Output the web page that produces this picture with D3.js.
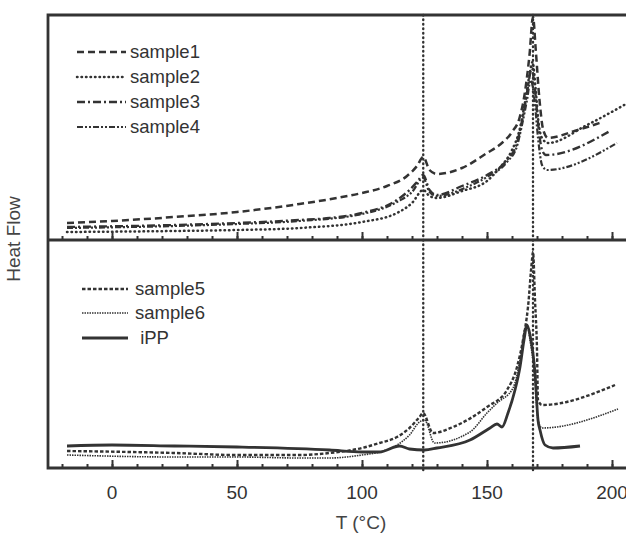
<!DOCTYPE html>
<html>
<head>
<meta charset="utf-8">
<script src="https://cdn.jsdelivr.net/npm/d3@7"></script>
<style>
  html, body { margin: 0; padding: 0; background: #fff; }
  svg { display: block; font-family: "Liberation Sans", Arial, sans-serif; }
</style>
</head>
<body>
<svg id="chart" width="626" height="536"></svg>
<script>
// DSC traces, heat flow in arbitrary units
const sample1 = [[-18,17],[0,19],[25,23],[50,28],[75,36],[90,42],[100,47],[110,54],[118,64],[122,74],[124.5,83],[127,70],[130,66],[140,72],[150,87],[155,95],[160,108],[163,122],[165,145],[167,185],[168.4,223],[169.5,190],[171,140],[172.5,110],[174.4,102],[185,109],[195,117]]
const sample2 = [[-18,8],[25,9],[50,10],[75,12],[100,18],[114,27],[120,37],[124.5,50],[127,44],[130,42],[140,49],[150,59],[155,72],[160,90],[163,110],[165,135],[167,165],[168.2,178],[169.5,150],[170.5,120],[172,102],[174.4,97],[190,115],[205.6,136]]
const sample3 = [[-18,13],[25,15],[50,17],[75,20],[87,22],[100,27],[114,40],[119,50],[122,58],[124.5,65],[127,50],[130,45],[140,54],[150,65],[158,80],[162,97],[163.5,113],[165,132],[166.5,155],[167.8,172],[169,155],[170.5,115],[172,90],[173.6,85],[199.2,109]]
const sample4 = [[-18,12],[25,14],[50,16],[75,19],[100,26],[114,38],[120,48],[124.5,62],[127,48],[130,44],[142,53],[150,63],[158,78],[162,94],[164,115],[166,140],[167.5,160],[169,140],[170.5,100],[172,75],[174,70],[202,97]]

const sample5 = [[-18,17],[25,15],[50,13],[75,13],[87,15],[100,20],[107,25],[114,31],[119,40],[123,51],[124.4,55],[128.4,35],[136.4,41],[150,61],[158,78],[162,101],[164.4,128],[166.4,161],[168,208],[168.4,216],[169.2,168],[170,118],[170.4,68],[172,63],[201.2,83]]
const sample6 = [[-18,13],[25,11],[50,11],[75,10],[87,10],[100,13],[107,16],[114,23],[119,33],[123,46],[125,48],[129,25],[143.2,36],[150,55],[154,65],[160.4,80],[163.2,108],[165.2,140],[166,143],[167.2,128],[169.2,88],[170.4,48],[172,40],[202.4,59]]
const iPP = [[-18,22],[0,23],[25,22],[50,21],[87,18],[100,16],[107,16],[115,22],[119,19],[125,18],[130,20],[143.2,28],[151.2,40],[154,44],[156,41],[158.4,55],[161.2,78],[163.2,101],[164.8,128],[166,143],[167.2,133],[169.2,95],[170.4,48],[171.2,38],[173.2,23],[176.4,20],[187.2,22]]

const peakMarks = [124.5, 168.4]
const xTicks = [0, 50, 100, 150, 200]

const upperSeries = [
  { name: 'sample1', data: sample1, dash: '7,4', width: 2.5 },
  { name: 'sample2', data: sample2, dash: '0.5,4', width: 2.5, cap: 'round' },
  { name: 'sample3', data: sample3, dash: '8,3,2,3', width: 2.4 },
  { name: 'sample4', data: sample4, dash: '6,2,2,2,2,2', width: 2.2 },
]
const lowerSeries = [
  { name: 'sample5', data: sample5, dash: '3.5,2', width: 2.4 },
  { name: 'sample6', data: sample6, dash: '1.5,1', width: 1.6 },
  { name: ' iPP', data: iPP, dash: null, width: 2.8 },
]

const ink = '#333'

const svg = d3.select('#chart')

const frameLeft = 48
const frameRight = 626
const frameTop = 15
const frameMid = 240
const frameBottom = 468

const x = d3.scaleLinear()
    .domain([-25.6, 205.6])
    .range([frameLeft, frameRight])

const yUpper = d3.scaleLinear()
    .domain([0, 225])
    .range([frameMid, frameTop])

const yLower = d3.scaleLinear()
    .domain([0, 228])
    .range([frameBottom, frameMid])

// curves
function drawPanel(series, y) {
  const line = d3.line()
      .x(d => x(d[0]))
      .y(d => y(d[1]))
      .curve(d3.curveMonotoneX)

  svg.append('g')
    .selectAll('path')
    .data(series)
    .join('path')
      .attr('d', d => line(d.data))
      .attr('fill', 'none')
      .attr('stroke', ink)
      .attr('stroke-width', d => d.width)
      .attr('stroke-dasharray', d => d.dash)
      .attr('stroke-linecap', d => d.cap || 'butt')
      .attr('stroke-linejoin', 'round')
}

drawPanel(upperSeries, yUpper)
drawPanel(lowerSeries, yLower)

// vertical dotted markers
svg.append('g')
  .selectAll('line')
  .data(peakMarks)
  .join('line')
    .attr('x1', d => x(d))
    .attr('x2', d => x(d))
    .attr('y1', frameTop)
    .attr('y2', frameBottom + 4)
    .attr('stroke', ink)
    .attr('stroke-width', 2.4)
    .attr('stroke-dasharray', '0.5,4')
    .attr('stroke-linecap', 'round')

// axes with inward ticks, labels only on the bottom one
function drawAxis(yPos, labelled) {
  const minor = d3.axisTop(x)
      .tickValues(d3.range(-20, 201, 10))
      .tickSize(4)
      .tickFormat('')

  const major = d3.axisTop(x)
      .tickValues(xTicks)
      .tickSize(8)
      .tickFormat('')

  for (const ax of [minor, major]) {
    const g = svg.append('g')
        .attr('transform', `translate(0,${yPos})`)
        .call(ax)
    g.select('.domain').remove()
    g.selectAll('line')
        .attr('stroke', ink)
        .attr('stroke-width', 2)
  }

  if (labelled) {
    svg.append('g')
      .selectAll('text')
      .data(xTicks)
      .join('text')
        .attr('x', d => x(d))
        .attr('y', yPos + 31)
        .attr('text-anchor', 'middle')
        .attr('font-size', 19)
        .attr('fill', ink)
        .text(d => d)
  }
}

drawAxis(frameMid, false)
drawAxis(frameBottom, true)

// frame
const frame = svg.append('g')
    .attr('stroke', ink)
    .attr('stroke-width', 2.8)
    .attr('fill', 'none')

frame.append('path')
    .attr('d', `M${frameRight},${frameTop}H${frameLeft}V${frameBottom}H${frameRight}`)
frame.append('line')
    .attr('x1', frameLeft).attr('x2', frameRight)
    .attr('y1', frameMid).attr('y2', frameMid)

// legends
function drawLegend(series, x0, x1, tx, rows) {
  const g = svg.append('g')
  series.forEach((s, i) => {
    g.append('line')
        .attr('x1', x0).attr('x2', x1)
        .attr('y1', rows[i]).attr('y2', rows[i])
        .attr('stroke', ink)
        .attr('stroke-width', s.width)
        .attr('stroke-dasharray', s.dash)
        .attr('stroke-linecap', s.cap || 'butt')
    g.append('text')
        .attr('x', tx)
        .attr('y', rows[i] + 6)
        .attr('font-size', 18.5)
        .attr('fill', ink)
        .style('white-space', 'pre')
        .text(s.name)
  })
}

drawLegend(upperSeries, 77, 126, 130, [52, 77, 102, 127])
drawLegend(lowerSeries, 82, 128, 135, [289, 313, 338])

// axis titles
svg.append('text')
    .attr('transform', 'translate(20,239) rotate(-90)')
    .attr('text-anchor', 'middle')
    .attr('font-size', 19)
    .attr('fill', '#444')
    .text('Heat Flow')

svg.append('text')
    .attr('x', 361)
    .attr('y', 529)
    .attr('text-anchor', 'middle')
    .attr('font-size', 19)
    .attr('fill', '#444')
    .text('T (°C)')
</script>
</body>
</html>
